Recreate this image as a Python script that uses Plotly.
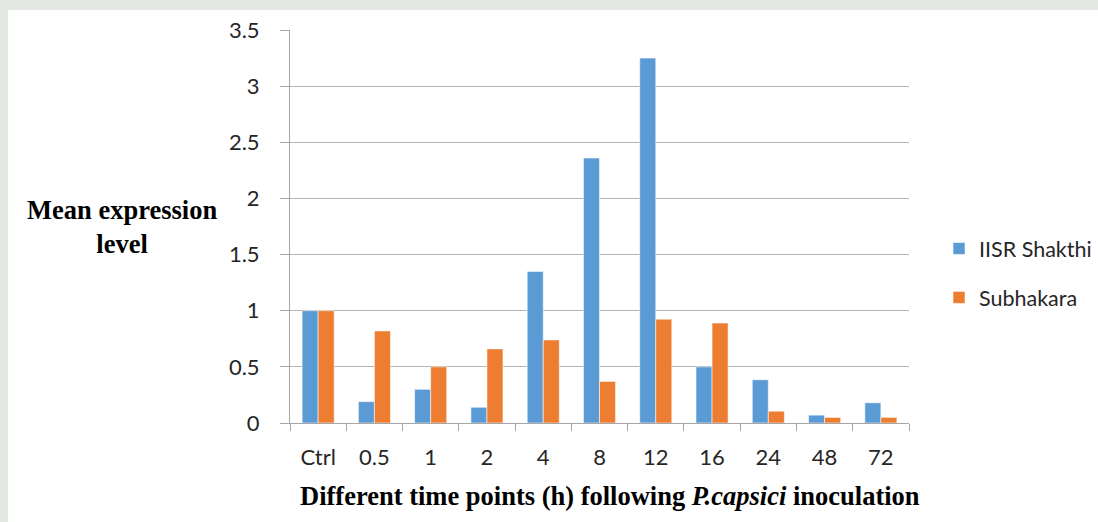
import plotly.graph_objects as go

# Expression data at each time point
time_points = ["Ctrl", "0.5", "1", "2", "4", "8", "12", "16", "24", "48", "72"]
iisr_shakthi = [1.0, 0.19, 0.30, 0.14, 1.35, 2.36, 3.25, 0.50, 0.385, 0.07, 0.18]
subhakara = [1.0, 0.82, 0.50, 0.66, 0.74, 0.37, 0.925, 0.89, 0.105, 0.05, 0.05]
y_ticks = [0, 0.5, 1, 1.5, 2, 2.5, 3, 3.5]
y_tick_text = ["0", "0.5", "1", "1.5", "2", "2.5", "3", "3.5"]

W, H = 1098, 522
L, R, T, B = 290, 189, 30, 99
pw, ph = W - L - R, H - T - B

def px_x(x):
    return (x - L) / pw

def px_y(y):
    return (H - B - y) / ph

fig = go.Figure()
fig.add_trace(go.Bar(
    x=time_points, y=iisr_shakthi, name="IISR Shakthi", legendgroup="a",
    marker=dict(color="#5B9BD5", line=dict(color="rgba(255,255,255,0.55)", width=1)),
))
fig.add_trace(go.Bar(
    x=time_points, y=subhakara, name="Subhakara", legendgroup="b",
    marker=dict(color="#ED7D31", line=dict(color="rgba(255,255,255,0.55)", width=1)),
))

tick_font = dict(family="Lato, 'Open Sans', sans-serif", size=22, color="#262626")
legend_font = dict(family="Lato, 'Open Sans', sans-serif", size=21.5, color="#262626")
title_font = dict(family="'Liberation Serif', 'Times New Roman', serif", size=26.5, color="#000000")

fig.update_layout(
    width=W, height=H,
    margin=dict(l=L, r=R, t=T, b=B, pad=0, autoexpand=False),
    paper_bgcolor="#e4e9e3",
    plot_bgcolor="rgba(0,0,0,0)",
    barmode="group",
    bargap=0.43,
    bargroupgap=0,
    showlegend=True,
    legend=dict(
        x=px_x(939), y=px_y(228), xanchor="left", yanchor="top",
        font=legend_font, bgcolor="rgba(0,0,0,0)",
        traceorder="grouped", tracegroupgap=18, itemwidth=30,
    ),
    shapes=[dict(
        type="rect", xref="paper", yref="paper", layer="below",
        x0=px_x(8), x1=px_x(W + 5), y0=px_y(H + 5), y1=px_y(10),
        fillcolor="white", line=dict(width=0),
    )],
    annotations=[
        dict(
            text="<b>Mean expression<br>level</b>", xref="paper", yref="paper",
            x=px_x(122), y=px_y(227), xanchor="center", yanchor="middle",
            showarrow=False, align="center", font=title_font,
        ),
        dict(
            text="<b>Different time points (h) following <i>P.capsici</i> inoculation</b>",
            xref="paper", yref="paper",
            x=px_x(610), y=px_y(496), xanchor="center", yanchor="middle",
            showarrow=False, font=title_font,
        ),
    ],
)

fig.update_xaxes(
    type="category",
    showline=True, linecolor="#a6a6a6", linewidth=1,
    ticks="outside", tickson="boundaries", ticklen=7, tickcolor="#a6a6a6",
    tickfont=tick_font, ticklabelstandoff=15,
    showgrid=False, zeroline=False,
)
fig.update_yaxes(
    range=[0, 3.5], tickvals=y_ticks, ticktext=y_tick_text,
    showline=True, linecolor="#a6a6a6", linewidth=1,
    ticks="outside", ticklen=9, tickcolor="#a6a6a6",
    tickfont=tick_font, ticklabelstandoff=16,
    showgrid=True, gridcolor="#b4b4b4", gridwidth=1.3,
    zeroline=False,
)

fig.write_html("out.html")
